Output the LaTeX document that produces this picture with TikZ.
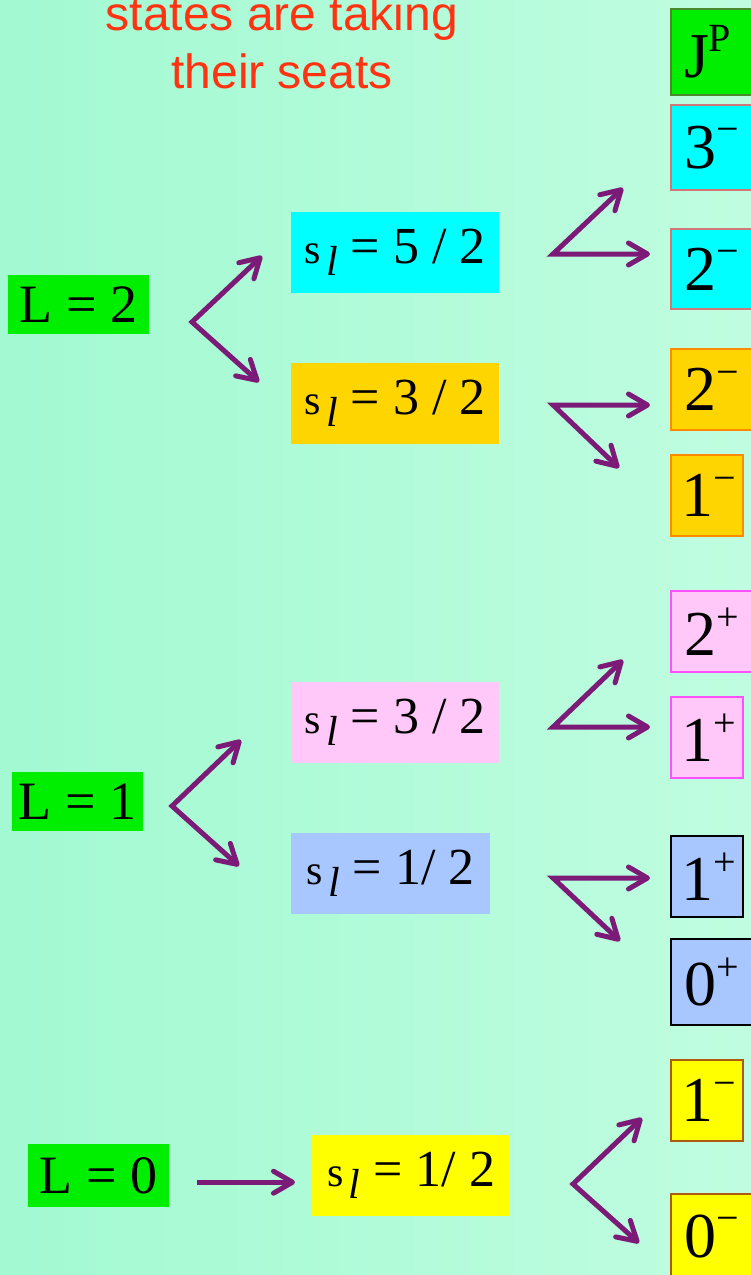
\documentclass[tikz,border=0pt]{standalone}
\usepackage{fontspec}
\setmainfont{Liberation Serif}
\newfontfamily\headfont{Liberation Sans}
\usepackage{tikz}
\usetikzlibrary{arrows.meta}
\definecolor{bgleft}{HTML}{A2F9D2}
\definecolor{bgright}{HTML}{C0FDE0}
\definecolor{arrowpurple}{HTML}{7C1A78}
\definecolor{headred}{HTML}{FF3311}
\definecolor{lgreen}{HTML}{00EE00}
\definecolor{jpedge}{HTML}{4A8A2A}
\definecolor{dcyan}{HTML}{00FFFF}
\definecolor{cyanedge}{HTML}{D07878}
\definecolor{dgold}{HTML}{FFD500}
\definecolor{goldedge}{HTML}{FF8A00}
\definecolor{dpink}{HTML}{FFC8F8}
\definecolor{pinkedge}{HTML}{FF50FF}
\definecolor{dblue}{HTML}{A8C6FF}
\definecolor{dyellow}{HTML}{FFFF00}
\definecolor{yellowedge}{HTML}{B05A10}
\newcommand\parity[2]{#1\raisebox{0.4em}{\fontsize{40}{40}\selectfont #2}}
\newcommand\slval[1]{{\fontsize{42}{42}\selectfont s\hspace{5pt}\raisebox{-12pt}{\itshape l}}\ = #1}

\begin{document}
\begin{tikzpicture}[x=1pt, y=-1pt,
    lbox/.style={fill=lgreen, inner sep=0pt, anchor=north west, minimum height=59pt,
                 font=\fontsize{54}{54}\selectfont},
    sbox/.style={inner sep=0pt, anchor=north west, minimum width=208pt, minimum height=81pt,
                 font=\fontsize{52}{52}\selectfont},
    jbox/.style={draw, line width=2pt, inner xsep=13pt, inner ysep=0pt, anchor=north west,
                 align=left, text width=64pt, minimum height=81pt, font=\fontsize{64}{64}\selectfont},
    nbox/.style={jbox, inner xsep=10pt, text width=52pt},
    fork/.style={draw=arrowpurple, line width=5pt,
                 {Straight Barb[length=19pt,width=22pt,line width=5pt,round]}-{Straight Barb[length=19pt,width=22pt,line width=5pt,round]}},
    onearrow/.style={draw=arrowpurple, line width=5pt, -{Straight Barb[length=19pt,width=22pt,line width=5pt,round]}}]
  \useasboundingbox (0,0) rectangle (751,1275);
  \clip (0,0) rectangle (751,1275);
  \shade[left color=bgleft, right color=bgright] (0,0) rectangle (751,1275);

  \node[text=headred, font=\headfont\fontsize{48}{58}\selectfont, align=center, anchor=base]
    (title) at (282,88) {states are taking\\their seats};

  % orbital L
  \node[lbox, minimum width=141pt] (L2) at (8,275) {L = 2};
  \node[lbox, minimum width=131pt] (L1) at (12,772) {L = 1};
  \node[lbox, minimum width=141pt, minimum height=63pt] (L0) at (28,1144) {L = 0};

  % light spin
  \node[sbox, fill=dcyan] (s52) at (291,212) {\slval{5 / 2}};
  \node[sbox, fill=dgold] (s32) at (291,363) {\slval{3 / 2}};
  \node[sbox, fill=dpink] (p32) at (291,682) {\slval{3 / 2}};
  \node[sbox, fill=dblue, minimum width=199pt] (b12) at (291,833) {\slval{1/ 2}};
  \node[sbox, fill=dyellow, minimum width=198pt] (y12) at (312,1135) {\slval{1/ 2}};

  % J^P column
  \node[jbox, fill=lgreen, draw=jpedge, minimum height=86pt] (jp) at (670,8) {\parity{J}{P}};
  \node[jbox, fill=dcyan, draw=cyanedge, minimum height=85pt] (c3) at (670,104) {\parity{3}{−}};
  \node[jbox, fill=dcyan, draw=cyanedge, minimum height=80pt] (c2) at (670,228) {\parity{2}{−}};
  \node[jbox, fill=dgold, draw=goldedge] (g2) at (670,348) {\parity{2}{−}};
  \node[nbox, fill=dgold, draw=goldedge] (g1) at (670,454) {\parity{1}{−}};
  \node[jbox, fill=dpink, draw=pinkedge] (p2) at (670,590) {\parity{2}{+}};
  \node[nbox, fill=dpink, draw=pinkedge] (p1) at (670,696) {\parity{1}{+}};
  \node[nbox, fill=dblue, draw=black] (b1) at (670,835) {\parity{1}{+}};
  \node[jbox, fill=dblue, draw=black, minimum height=86pt] (b0) at (670,938) {\parity{0}{+}};
  \node[nbox, fill=dyellow, draw=yellowedge] (y1) at (670,1059) {\parity{1}{−}};
  \node[jbox, fill=dyellow, draw=yellowedge, minimum height=85pt] (y0) at (670,1193) {\parity{0}{−}};

  % fork points and tips
  \coordinate (fL2) at (192,322);  \coordinate (uL2) at (262,256);  \coordinate (dL2) at (259,382);
  \coordinate (fs52) at (553,254); \coordinate (us52) at (623,188); \coordinate (ds52) at (650,254);
  \coordinate (fs32) at (553,405); \coordinate (us32) at (650,405); \coordinate (ds32) at (619,468);
  \coordinate (fL1) at (172,806);  \coordinate (uL1) at (241,740);  \coordinate (dL1) at (239,866);
  \coordinate (fp32) at (553,727); \coordinate (up32) at (623,660); \coordinate (dp32) at (650,727);
  \coordinate (fb12) at (553,878); \coordinate (ub12) at (650,878); \coordinate (db12) at (620,941);
  \coordinate (fy12) at (573,1184); \coordinate (uy12) at (642,1118); \coordinate (dy12) at (639,1243);

  \foreach \f in {L2,s52,s32,L1,p32,b12,y12}
    \draw[fork] (u\f) -- (f\f) -- (d\f);
  \draw[onearrow, shorten <=28pt, shorten >=17pt] ([yshift=-6.5pt]L0.east) -- ([yshift=-6.5pt]y12.west);
\end{tikzpicture}
\end{document}
